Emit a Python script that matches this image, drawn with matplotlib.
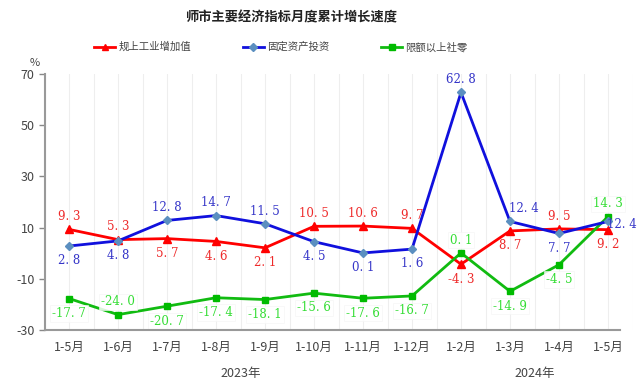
import matplotlib
matplotlib.use("Agg")
import matplotlib.pyplot as plt

plt.rcParams['font.family'] = ['Noto Sans CJK SC', 'DejaVu Sans']

categories = ["1-5月", "1-6月", "1-7月", "1-8月", "1-9月", "1-10月", "1-11月", "1-12月",
              "1-2月", "1-3月", "1-4月", "1-5月"]
industry = [9.3, 5.3, 5.7, 4.6, 2.1, 10.5, 10.6, 9.7, -4.3, 8.7, 9.5, 9.2]
investment = [2.8, 4.8, 12.8, 14.7, 11.5, 4.5, 0.1, 1.6, 62.8, 12.4, 7.7, 12.4]
retail = [-17.7, -24.0, -20.7, -17.4, -18.1, -15.6, -17.6, -16.7, 0.1, -14.9, -4.5, 14.3]
series_names = ["规上工业增加值", "固定资产投资", "限额以上社零"]
yticks = [70, 50, 30, 10, -10, -30]
years = ["2023年", "2024年"]

# label placement: 1 above, -1 below, 0 right, 2 above-right
ind_pos = [1, 1, -1, -1, -1, 1, 1, 1, -1, -1, 1, -1]
inv_pos = [-1, -1, 1, 1, 1, -1, -1, -1, 1, 2, -1, 0]
ret_pos = [-1, 1, -1, -1, -1, -1, -1, -1, 1, -1, -1, 1]

fig = plt.figure(figsize=(6.4, 3.84), dpi=100)
ax = fig.add_axes([44.5/640, (384-330)/384, (632.5-44.5)/640, 256/384])
x = list(range(len(categories)))

ax.set_xlim(-0.5, 11.5)
ax.set_ylim(-30, 70)

for v in [i - 0.5 for i in range(13)] + x:
    ax.axvline(v, color='#eeeeee', lw=0.8, zorder=0)

l1, = ax.plot(x, industry, color='#ff0000', lw=2, marker='^', ms=6, zorder=3)
l2, = ax.plot(x, investment, color='#1010dd', lw=2, marker='D', ms=4.5,
              mfc='#5b8fc0', mec='#5b8fc0', zorder=4)
l3, = ax.plot(x, retail, color='#11bb11', lw=2, marker='s', ms=5,
              mfc='#00bb00', mec='#00bb00', zorder=3)

def lab(vals, pos, color, box=False):
    for i, (v, p) in enumerate(zip(vals, pos)):
        txt = f"{v:.1f}".replace('.', '. ')
        kw = dict(color=color, fontsize=8.5, family=['DejaVu Serif'], zorder=5)
        if box:
            kw['bbox'] = dict(boxstyle='square,pad=0.15', fc='white', ec='#f4f4f4',
                              lw=0.5, alpha=0.85)
        if p == 1:
            ax.annotate(txt, (i, v), xytext=(0, 4.5), textcoords='offset points',
                        ha='center', va='bottom', **kw)
        elif p == 2:
            ax.annotate(txt, (i, v), xytext=(10, 4.5), textcoords='offset points',
                        ha='center', va='bottom', **kw)
        elif p == -1:
            ax.annotate(txt, (i, v), xytext=(0, -6), textcoords='offset points',
                        ha='center', va='top', **kw)
        else:
            ax.annotate(txt, (i, v), xytext=(-1, -2), textcoords='offset points',
                        ha='left', va='center', **kw)

lab(industry, ind_pos, '#ee2a2a')
lab(investment, inv_pos, '#3535c8')
lab(retail, ret_pos, '#33dd33', box=True)

ax.set_yticks(yticks)
ax.set_yticklabels([str(t) for t in yticks], color='#444444', fontsize=9)
ax.set_xticks(x)
ax.set_xticklabels(categories, color='#444444', fontsize=9)
ax.tick_params(axis='x', length=0, pad=8)
ax.tick_params(axis='y', length=4, color='#888888', width=1, pad=3)

for s in ['top', 'right']:
    ax.spines[s].set_visible(False)
ax.spines['left'].set_color('#999999')
ax.spines['left'].set_linewidth(1.5)
ax.spines['bottom'].set_color('#999999')
ax.spines['bottom'].set_linewidth(1.5)
ax.spines['bottom'].set_bounds(-0.5, 11.25)
ax.spines['bottom'].set_zorder(6)

fig.text(35/640, 1 - 63/384, '%', fontsize=8, color='#444444', ha='center', va='center')
fig.text(291/640, 1 - 17/384, '师市主要经济指标月度累计增长速度', fontsize=9.5,
         fontweight='bold', ha='center', va='center', color='#222222')

ax.text(3.5, -0.17, years[0], transform=ax.get_xaxis_transform(), ha='center',
        va='center', fontsize=9, color='#444444')
ax.text(9.5, -0.17, years[1], transform=ax.get_xaxis_transform(), ha='center',
        va='center', fontsize=9, color='#444444')

fig.legend([l1, l2, l3], series_names, loc='center', bbox_to_anchor=(281/640, 1 - 47/384),
           ncol=3, frameon=False, fontsize=7.5, columnspacing=5.0, handlelength=2,
           handletextpad=0.3, labelcolor='#444444', markerscale=0.8)

fig.savefig('out.png', dpi=100)
